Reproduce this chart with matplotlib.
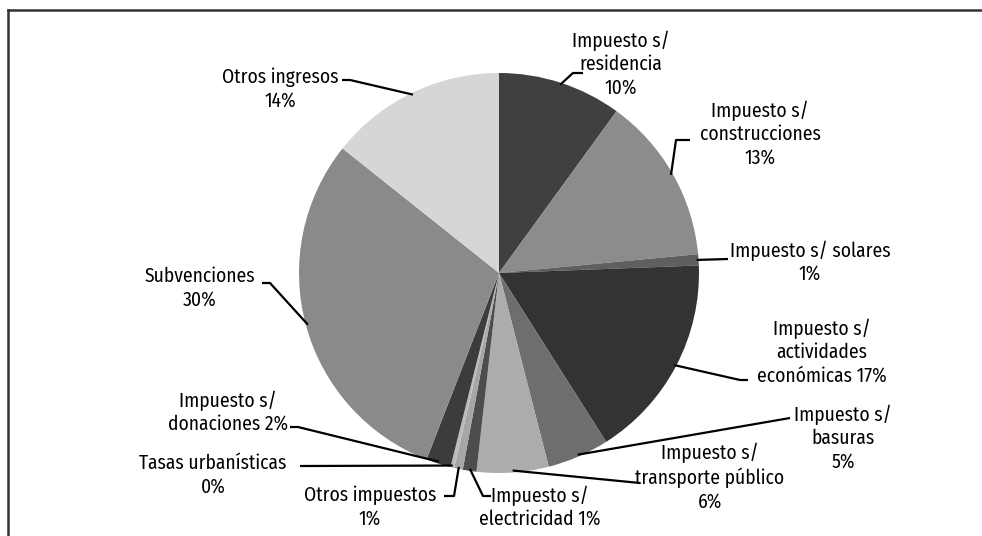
import numpy as np
import matplotlib
matplotlib.use("Agg")
import matplotlib.pyplot as plt
from matplotlib import font_manager

# ===============================
# DATA
# ===============================

labels = [
    "Impuesto s/\nresidencia\n10%",
    "Impuesto s/\nconstrucciones\n13%",
    "Impuesto s/ solares\n1%",
    "Impuesto s/\nactividades\neconómicas 17%",
    "Impuesto s/\nbasuras\n5%",
    "Impuesto s/\ntransporte público\n6%",
    "Impuesto s/\nelectricidad 1%",
    "Otros impuestos\n1%",
    "Tasas urbanísticas\n0%",
    "Impuesto s/\ndonaciones 2%",
    "Subvenciones\n30%",
    "Otros ingresos\n14%",
]
values = [10.0, 13.5, 0.9, 16.6, 5.0, 5.8, 1.1, 0.7, 0.3, 2.0, 29.8, 14.3]
colors = ["#404040", "#8c8c8c", "#5f5f5f", "#333333", "#6e6e6e", "#acacac",
          "#4d4d4d", "#a6a6a6", "#bcbcbc", "#3c3c3c", "#8a8a8a", "#d6d6d6"]

# ===============================
# LAYOUT (pixels, y from top)
# ===============================

W, H = 982, 536
CX, CY, R = 499, 273, 200

text_pos = [(621, 64), (760, 134), (810, 262), (822, 352), (843, 438),
            (710, 477), (540, 507), (370, 507), (213, 475), (228, 412),
            (200, 288), (280, 89)]
leader_pts = [
    [(573, 73), (583, 73)],
    [(676, 140), (690, 140)],
    [(728, 259)],
    [(740, 380), (748, 380)],
    [(790, 418)],
    [(640, 483)],
    [(483, 496), (491, 496)],
    [(454, 496), (444, 496)],
    [(300, 466)],
    [(298, 427), (290, 427)],
    [(270, 283), (262, 283)],
    [(350, 80), (342, 80)],
]

names = {f.name for f in font_manager.fontManager.ttflist}
family = "DejaVu Sans"
for cand in ["Fira Sans Condensed", "PT Sans Narrow", "Roboto Condensed"]:
    if cand in names:
        family = cand
        break


def py(y):
    return H - y


fig = plt.figure(figsize=(W / 100, H / 100), dpi=100)
ax = fig.add_axes([0, 0, 1, 1])

wedges, _ = ax.pie(values, colors=colors, startangle=90, counterclock=False,
                   center=(CX, py(CY)), radius=R,
                   wedgeprops={"linewidth": 0})

for w, lab, (tx, ty), pts in zip(wedges, labels, text_pos, leader_pts):
    mid = np.deg2rad((w.theta1 + w.theta2) / 2)
    sx = CX + R * 0.99 * np.cos(mid)
    sy = py(CY) + R * 0.99 * np.sin(mid)
    xs = [sx] + [p[0] for p in pts]
    ys = [sy] + [py(p[1]) for p in pts]
    ax.plot(xs, ys, color="black", lw=1.6, solid_capstyle="butt", zorder=3)
    ax.text(tx, py(ty), lab, ha="center", va="center", multialignment="center",
            fontsize=14, family=family, weight="normal", linespacing=1.25,
            color="#000000")

# cropped frame
ax.plot([8, 8], [0, py(10)], color="#333333", lw=1.8)
ax.plot([8, W], [py(10), py(10)], color="#333333", lw=1.8)

ax.set_xlim(0, W)
ax.set_ylim(0, H)
ax.set_aspect("equal")
ax.axis("off")

fig.savefig("out.png", dpi=100)
